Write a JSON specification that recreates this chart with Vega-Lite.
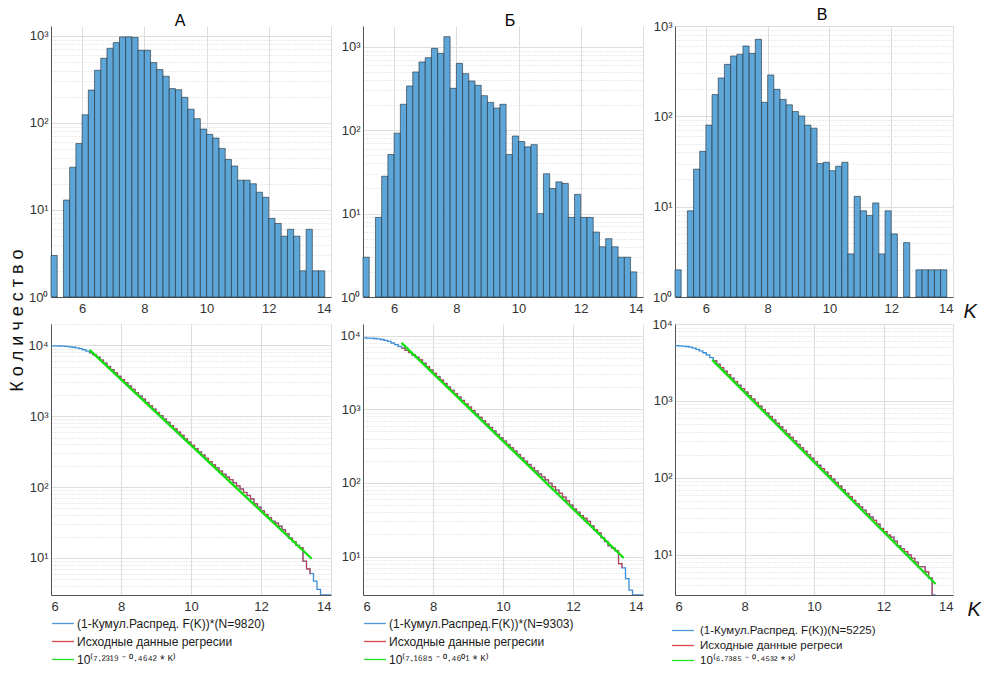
{
  "$schema": "https://vega.github.io/schema/vega-lite/v6.json",
  "background": "white",
  "padding": {"left": 8, "top": 7, "right": 2, "bottom": 2},
  "title": {"text": "К о л и ч е с т в о", "orient": "left", "anchor": "middle", "fontSize": 18, "fontWeight": "normal", "font": "Liberation Sans", "color": "#111", "offset": 1, "dx": 16},
  "datasets": {
    "hist": [
      {"p":"A","k0":5.0,"k1":5.2,"n":3},{"p":"A","k0":5.4,"k1":5.6,"n":13},{"p":"A","k0":5.6,"k1":5.8,"n":31},{"p":"A","k0":5.8,"k1":6.0,"n":58},
      {"p":"A","k0":6.0,"k1":6.2,"n":124},{"p":"A","k0":6.2,"k1":6.4,"n":239},{"p":"A","k0":6.4,"k1":6.6,"n":403},{"p":"A","k0":6.6,"k1":6.8,"n":554},
      {"p":"A","k0":6.8,"k1":7.0,"n":721},{"p":"A","k0":7.0,"k1":7.2,"n":838},{"p":"A","k0":7.2,"k1":7.4,"n":974},{"p":"A","k0":7.4,"k1":7.6,"n":975},
      {"p":"A","k0":7.6,"k1":7.8,"n":960},{"p":"A","k0":7.8,"k1":8.0,"n":684},{"p":"A","k0":8.0,"k1":8.2,"n":684},{"p":"A","k0":8.2,"k1":8.4,"n":494},
      {"p":"A","k0":8.4,"k1":8.6,"n":410},{"p":"A","k0":8.6,"k1":8.8,"n":344},{"p":"A","k0":8.8,"k1":9.0,"n":248},{"p":"A","k0":9.0,"k1":9.2,"n":241},
      {"p":"A","k0":9.2,"k1":9.4,"n":197},{"p":"A","k0":9.4,"k1":9.6,"n":144},{"p":"A","k0":9.6,"k1":9.8,"n":112},{"p":"A","k0":9.8,"k1":10.0,"n":85},
      {"p":"A","k0":10.0,"k1":10.2,"n":74},{"p":"A","k0":10.2,"k1":10.4,"n":67},{"p":"A","k0":10.4,"k1":10.6,"n":51},{"p":"A","k0":10.6,"k1":10.8,"n":38},
      {"p":"A","k0":10.8,"k1":11.0,"n":32},{"p":"A","k0":11.0,"k1":11.2,"n":22},{"p":"A","k0":11.2,"k1":11.4,"n":22},{"p":"A","k0":11.4,"k1":11.6,"n":20},
      {"p":"A","k0":11.6,"k1":11.8,"n":16},{"p":"A","k0":11.8,"k1":12.0,"n":14},{"p":"A","k0":12.0,"k1":12.2,"n":8},{"p":"A","k0":12.2,"k1":12.4,"n":7},
      {"p":"A","k0":12.4,"k1":12.6,"n":5},{"p":"A","k0":12.6,"k1":12.8,"n":6},{"p":"A","k0":12.8,"k1":13.0,"n":5},{"p":"A","k0":13.0,"k1":13.2,"n":2},
      {"p":"A","k0":13.2,"k1":13.4,"n":6},{"p":"A","k0":13.4,"k1":13.6,"n":2},{"p":"A","k0":13.6,"k1":13.8,"n":2},
      {"p":"B","k0":5.0,"k1":5.2,"n":3},{"p":"B","k0":5.4,"k1":5.6,"n":9},{"p":"B","k0":5.6,"k1":5.8,"n":28},{"p":"B","k0":5.8,"k1":6.0,"n":51},
      {"p":"B","k0":6.0,"k1":6.2,"n":92},{"p":"B","k0":6.2,"k1":6.4,"n":204},{"p":"B","k0":6.4,"k1":6.6,"n":338},{"p":"B","k0":6.6,"k1":6.8,"n":498},
      {"p":"B","k0":6.8,"k1":7.0,"n":656},{"p":"B","k0":7.0,"k1":7.2,"n":739},{"p":"B","k0":7.2,"k1":7.4,"n":955},{"p":"B","k0":7.4,"k1":7.6,"n":832},
      {"p":"B","k0":7.6,"k1":7.8,"n":1319},{"p":"B","k0":7.8,"k1":8.0,"n":317},{"p":"B","k0":8.0,"k1":8.2,"n":632},{"p":"B","k0":8.2,"k1":8.4,"n":475},
      {"p":"B","k0":8.4,"k1":8.6,"n":388},{"p":"B","k0":8.6,"k1":8.8,"n":344},{"p":"B","k0":8.8,"k1":9.0,"n":259},{"p":"B","k0":9.0,"k1":9.2,"n":215},
      {"p":"B","k0":9.2,"k1":9.4,"n":184},{"p":"B","k0":9.4,"k1":9.6,"n":204},{"p":"B","k0":9.6,"k1":9.8,"n":51},{"p":"B","k0":9.8,"k1":10.0,"n":85},
      {"p":"B","k0":10.0,"k1":10.2,"n":73},{"p":"B","k0":10.2,"k1":10.4,"n":63},{"p":"B","k0":10.4,"k1":10.6,"n":67},{"p":"B","k0":10.6,"k1":10.8,"n":10},
      {"p":"B","k0":10.8,"k1":11.0,"n":30},{"p":"B","k0":11.0,"k1":11.2,"n":20},{"p":"B","k0":11.2,"k1":11.4,"n":24},{"p":"B","k0":11.4,"k1":11.6,"n":23},
      {"p":"B","k0":11.6,"k1":11.8,"n":9},{"p":"B","k0":11.8,"k1":12.0,"n":17},{"p":"B","k0":12.0,"k1":12.2,"n":9},{"p":"B","k0":12.2,"k1":12.4,"n":9},
      {"p":"B","k0":12.4,"k1":12.6,"n":6},{"p":"B","k0":12.6,"k1":12.8,"n":4},{"p":"B","k0":12.8,"k1":13.0,"n":5},{"p":"B","k0":13.0,"k1":13.2,"n":4},
      {"p":"B","k0":13.2,"k1":13.4,"n":3},{"p":"B","k0":13.4,"k1":13.6,"n":3},{"p":"B","k0":13.6,"k1":13.8,"n":2},
      {"p":"C","k0":5.0,"k1":5.2,"n":2},{"p":"C","k0":5.4,"k1":5.6,"n":9},{"p":"C","k0":5.6,"k1":5.8,"n":26},{"p":"C","k0":5.8,"k1":6.0,"n":41},
      {"p":"C","k0":6.0,"k1":6.2,"n":80},{"p":"C","k0":6.2,"k1":6.4,"n":174},{"p":"C","k0":6.4,"k1":6.6,"n":266},{"p":"C","k0":6.6,"k1":6.8,"n":376},
      {"p":"C","k0":6.8,"k1":7.0,"n":466},{"p":"C","k0":7.0,"k1":7.2,"n":486},{"p":"C","k0":7.2,"k1":7.4,"n":601},{"p":"C","k0":7.4,"k1":7.6,"n":498},
      {"p":"C","k0":7.6,"k1":7.8,"n":712},{"p":"C","k0":7.8,"k1":8.0,"n":143},{"p":"C","k0":8.0,"k1":8.2,"n":287},{"p":"C","k0":8.2,"k1":8.4,"n":199},
      {"p":"C","k0":8.4,"k1":8.6,"n":154},{"p":"C","k0":8.6,"k1":8.8,"n":134},{"p":"C","k0":8.8,"k1":9.0,"n":113},{"p":"C","k0":9.0,"k1":9.2,"n":101},
      {"p":"C","k0":9.2,"k1":9.4,"n":80},{"p":"C","k0":9.4,"k1":9.6,"n":74},{"p":"C","k0":9.6,"k1":9.8,"n":30},{"p":"C","k0":9.8,"k1":10.0,"n":31},
      {"p":"C","k0":10.0,"k1":10.2,"n":25},{"p":"C","k0":10.2,"k1":10.4,"n":28},{"p":"C","k0":10.4,"k1":10.6,"n":31},{"p":"C","k0":10.6,"k1":10.8,"n":3},
      {"p":"C","k0":10.8,"k1":11.0,"n":13},{"p":"C","k0":11.0,"k1":11.2,"n":9},{"p":"C","k0":11.2,"k1":11.4,"n":8},{"p":"C","k0":11.4,"k1":11.6,"n":11},
      {"p":"C","k0":11.6,"k1":11.8,"n":3},{"p":"C","k0":11.8,"k1":12.0,"n":9},{"p":"C","k0":12.0,"k1":12.2,"n":5},{"p":"C","k0":12.4,"k1":12.6,"n":4},
      {"p":"C","k0":12.8,"k1":13.0,"n":2},{"p":"C","k0":13.0,"k1":13.2,"n":2},{"p":"C","k0":13.2,"k1":13.4,"n":2},{"p":"C","k0":13.4,"k1":13.6,"n":2},
      {"p":"C","k0":13.6,"k1":13.8,"n":2}
    ],
    "cum": [
      {"p":"A","K":6.0,"n":9820,"r":0},{"p":"A","K":6.1,"n":9810,"r":0},{"p":"A","K":6.2,"n":9780,"r":0},{"p":"A","K":6.3,"n":9730,"r":0},
      {"p":"A","K":6.4,"n":9650,"r":0},{"p":"A","K":6.5,"n":9540,"r":0},{"p":"A","K":6.6,"n":9390,"r":0},{"p":"A","K":6.7,"n":9200,"r":0},
      {"p":"A","K":6.8,"n":8960,"r":0},{"p":"A","K":6.9,"n":8660,"r":0},{"p":"A","K":7.0,"n":8300,"r":0},{"p":"A","K":7.1,"n":7850,"r":1},
      {"p":"A","K":7.2,"n":7350,"r":1},{"p":"A","K":7.3,"n":6800,"r":1},{"p":"A","K":7.4,"n":6200,"r":1},{"p":"A","K":7.5,"n":5600,"r":1},
      {"p":"A","K":7.6,"n":5030,"r":1},{"p":"A","K":7.7,"n":4530,"r":1},{"p":"A","K":7.8,"n":4090,"r":1},{"p":"A","K":7.9,"n":3650,"r":1},
      {"p":"A","K":8.0,"n":3290,"r":1},{"p":"A","K":8.1,"n":2950,"r":1},{"p":"A","K":8.2,"n":2670,"r":1},{"p":"A","K":8.3,"n":2390,"r":1},
      {"p":"A","K":8.4,"n":2140,"r":1},{"p":"A","K":8.5,"n":1930,"r":1},{"p":"A","K":8.6,"n":1740,"r":1},{"p":"A","K":8.7,"n":1560,"r":1},
      {"p":"A","K":8.8,"n":1400,"r":1},{"p":"A","K":8.9,"n":1255,"r":1},{"p":"A","K":9.0,"n":1130,"r":1},{"p":"A","K":9.1,"n":1015,"r":1},
      {"p":"A","K":9.2,"n":912,"r":1},{"p":"A","K":9.3,"n":822,"r":1},{"p":"A","K":9.4,"n":738,"r":1},{"p":"A","K":9.5,"n":662,"r":1},
      {"p":"A","K":9.6,"n":596,"r":1},{"p":"A","K":9.7,"n":536,"r":1},{"p":"A","K":9.8,"n":480,"r":1},{"p":"A","K":9.9,"n":432,"r":1},
      {"p":"A","K":10.0,"n":388,"r":1},{"p":"A","K":10.1,"n":349,"r":1},{"p":"A","K":10.2,"n":313,"r":1},{"p":"A","K":10.3,"n":282,"r":1},
      {"p":"A","K":10.4,"n":254,"r":1},{"p":"A","K":10.5,"n":229,"r":1},{"p":"A","K":10.6,"n":206,"r":1},{"p":"A","K":10.7,"n":186,"r":1},
      {"p":"A","K":10.8,"n":168,"r":1},{"p":"A","K":10.9,"n":152,"r":1},{"p":"A","K":11.0,"n":138,"r":1},{"p":"A","K":11.1,"n":127,"r":1},
      {"p":"A","K":11.2,"n":115,"r":1},{"p":"A","K":11.3,"n":104,"r":1},{"p":"A","K":11.4,"n":94,"r":1},{"p":"A","K":11.5,"n":84,"r":1},
      {"p":"A","K":11.6,"n":76,"r":1},{"p":"A","K":11.7,"n":68,"r":1},{"p":"A","K":11.8,"n":58,"r":1},{"p":"A","K":11.9,"n":52,"r":1},
      {"p":"A","K":12.0,"n":46,"r":1},{"p":"A","K":12.1,"n":41,"r":1},{"p":"A","K":12.2,"n":37,"r":1},{"p":"A","K":12.3,"n":33,"r":1},
      {"p":"A","K":12.4,"n":31,"r":1},{"p":"A","K":12.5,"n":28,"r":1},{"p":"A","K":12.6,"n":25,"r":1},{"p":"A","K":12.7,"n":22,"r":1},
      {"p":"A","K":12.8,"n":19,"r":1},{"p":"A","K":12.9,"n":17,"r":1},{"p":"A","K":13.0,"n":15,"r":1},{"p":"A","K":13.1,"n":14,"r":1},
      {"p":"A","K":13.2,"n":9,"r":1},{"p":"A","K":13.3,"n":7,"r":1},{"p":"A","K":13.4,"n":6,"r":1},{"p":"A","K":13.5,"n":4.7,"r":0},
      {"p":"A","K":13.6,"n":3.6,"r":0},{"p":"A","K":13.7,"n":3,"r":0},{"p":"A","K":14.0,"n":3,"r":0},
      {"p":"B","K":6.0,"n":9303,"r":0},{"p":"B","K":6.1,"n":9280,"r":0},{"p":"B","K":6.2,"n":9230,"r":0},{"p":"B","K":6.3,"n":9150,"r":0},
      {"p":"B","K":6.4,"n":9030,"r":0},{"p":"B","K":6.5,"n":8870,"r":0},{"p":"B","K":6.6,"n":8650,"r":0},{"p":"B","K":6.7,"n":8340,"r":0},
      {"p":"B","K":6.8,"n":7950,"r":0},{"p":"B","K":6.9,"n":7550,"r":0},{"p":"B","K":7.0,"n":7150,"r":0},{"p":"B","K":7.1,"n":6750,"r":1},
      {"p":"B","K":7.2,"n":6330,"r":1},{"p":"B","K":7.3,"n":5900,"r":1},{"p":"B","K":7.4,"n":5480,"r":1},{"p":"B","K":7.5,"n":5100,"r":1},
      {"p":"B","K":7.6,"n":4690,"r":1},{"p":"B","K":7.7,"n":4220,"r":1},{"p":"B","K":7.8,"n":3800,"r":1},{"p":"B","K":7.9,"n":3420,"r":1},
      {"p":"B","K":8.0,"n":3075,"r":1},{"p":"B","K":8.1,"n":2770,"r":1},{"p":"B","K":8.2,"n":2490,"r":1},{"p":"B","K":8.3,"n":2240,"r":1},
      {"p":"B","K":8.4,"n":2010,"r":1},{"p":"B","K":8.5,"n":1810,"r":1},{"p":"B","K":8.6,"n":1630,"r":1},{"p":"B","K":8.7,"n":1465,"r":1},
      {"p":"B","K":8.8,"n":1318,"r":1},{"p":"B","K":8.9,"n":1186,"r":1},{"p":"B","K":9.0,"n":1068,"r":1},{"p":"B","K":9.1,"n":960,"r":1},
      {"p":"B","K":9.2,"n":862,"r":1},{"p":"B","K":9.3,"n":776,"r":1},{"p":"B","K":9.4,"n":698,"r":1},{"p":"B","K":9.5,"n":628,"r":1},
      {"p":"B","K":9.6,"n":566,"r":1},{"p":"B","K":9.7,"n":508,"r":1},{"p":"B","K":9.8,"n":457,"r":1},{"p":"B","K":9.9,"n":411,"r":1},
      {"p":"B","K":10.0,"n":370,"r":1},{"p":"B","K":10.1,"n":333,"r":1},{"p":"B","K":10.2,"n":300,"r":1},{"p":"B","K":10.3,"n":270,"r":1},
      {"p":"B","K":10.4,"n":243,"r":1},{"p":"B","K":10.5,"n":219,"r":1},{"p":"B","K":10.6,"n":197,"r":1},{"p":"B","K":10.7,"n":178,"r":1},
      {"p":"B","K":10.8,"n":160,"r":1},{"p":"B","K":10.9,"n":145,"r":1},{"p":"B","K":11.0,"n":132,"r":1},{"p":"B","K":11.1,"n":121,"r":1},
      {"p":"B","K":11.2,"n":110,"r":1},{"p":"B","K":11.3,"n":99,"r":1},{"p":"B","K":11.4,"n":89,"r":1},{"p":"B","K":11.5,"n":80,"r":1},
      {"p":"B","K":11.6,"n":72,"r":1},{"p":"B","K":11.7,"n":64,"r":1},{"p":"B","K":11.8,"n":57,"r":1},{"p":"B","K":11.9,"n":50,"r":1},
      {"p":"B","K":12.0,"n":44,"r":1},{"p":"B","K":12.1,"n":40,"r":1},{"p":"B","K":12.2,"n":36,"r":1},{"p":"B","K":12.3,"n":33,"r":1},
      {"p":"B","K":12.4,"n":30,"r":1},{"p":"B","K":12.5,"n":26,"r":1},{"p":"B","K":12.6,"n":23,"r":1},{"p":"B","K":12.7,"n":21,"r":1},
      {"p":"B","K":12.8,"n":18,"r":1},{"p":"B","K":12.9,"n":16,"r":1},{"p":"B","K":13.0,"n":14,"r":1},{"p":"B","K":13.1,"n":13,"r":1},
      {"p":"B","K":13.2,"n":12,"r":1},{"p":"B","K":13.3,"n":8,"r":1},{"p":"B","K":13.4,"n":7,"r":1},{"p":"B","K":13.5,"n":5,"r":0},
      {"p":"B","K":13.6,"n":3.5,"r":0},{"p":"B","K":13.7,"n":3,"r":0},{"p":"B","K":14.0,"n":3,"r":0},
      {"p":"C","K":6.0,"n":5225,"r":0},{"p":"C","K":6.1,"n":5210,"r":0},{"p":"C","K":6.2,"n":5170,"r":0},{"p":"C","K":6.3,"n":5100,"r":0},
      {"p":"C","K":6.4,"n":5000,"r":0},{"p":"C","K":6.5,"n":4860,"r":0},{"p":"C","K":6.6,"n":4680,"r":0},{"p":"C","K":6.7,"n":4470,"r":0},
      {"p":"C","K":6.8,"n":4230,"r":0},{"p":"C","K":6.9,"n":3960,"r":0},{"p":"C","K":7.0,"n":3660,"r":0},{"p":"C","K":7.1,"n":3330,"r":1},
      {"p":"C","K":7.2,"n":3000,"r":1},{"p":"C","K":7.3,"n":2710,"r":1},{"p":"C","K":7.4,"n":2440,"r":1},{"p":"C","K":7.5,"n":2200,"r":1},
      {"p":"C","K":7.6,"n":1975,"r":1},{"p":"C","K":7.7,"n":1780,"r":1},{"p":"C","K":7.8,"n":1600,"r":1},{"p":"C","K":7.9,"n":1445,"r":1},
      {"p":"C","K":8.0,"n":1300,"r":1},{"p":"C","K":8.1,"n":1170,"r":1},{"p":"C","K":8.2,"n":1055,"r":1},{"p":"C","K":8.3,"n":950,"r":1},
      {"p":"C","K":8.4,"n":858,"r":1},{"p":"C","K":8.5,"n":772,"r":1},{"p":"C","K":8.6,"n":695,"r":1},{"p":"C","K":8.7,"n":628,"r":1},
      {"p":"C","K":8.8,"n":566,"r":1},{"p":"C","K":8.9,"n":510,"r":1},{"p":"C","K":9.0,"n":460,"r":1},{"p":"C","K":9.1,"n":414,"r":1},
      {"p":"C","K":9.2,"n":373,"r":1},{"p":"C","K":9.3,"n":336,"r":1},{"p":"C","K":9.4,"n":303,"r":1},{"p":"C","K":9.5,"n":273,"r":1},
      {"p":"C","K":9.6,"n":246,"r":1},{"p":"C","K":9.7,"n":222,"r":1},{"p":"C","K":9.8,"n":200,"r":1},{"p":"C","K":9.9,"n":180,"r":1},
      {"p":"C","K":10.0,"n":162,"r":1},{"p":"C","K":10.1,"n":146,"r":1},{"p":"C","K":10.2,"n":132,"r":1},{"p":"C","K":10.3,"n":119,"r":1},
      {"p":"C","K":10.4,"n":107,"r":1},{"p":"C","K":10.5,"n":96,"r":1},{"p":"C","K":10.6,"n":87,"r":1},{"p":"C","K":10.7,"n":78,"r":1},
      {"p":"C","K":10.8,"n":70,"r":1},{"p":"C","K":10.9,"n":63,"r":1},{"p":"C","K":11.0,"n":57,"r":1},{"p":"C","K":11.1,"n":51,"r":1},
      {"p":"C","K":11.2,"n":46,"r":1},{"p":"C","K":11.3,"n":42,"r":1},{"p":"C","K":11.4,"n":38,"r":1},{"p":"C","K":11.5,"n":34,"r":1},
      {"p":"C","K":11.6,"n":31,"r":1},{"p":"C","K":11.7,"n":28,"r":1},{"p":"C","K":11.8,"n":25,"r":1},{"p":"C","K":11.9,"n":22,"r":1},
      {"p":"C","K":12.0,"n":20,"r":1},{"p":"C","K":12.1,"n":18,"r":1},{"p":"C","K":12.2,"n":17,"r":1},{"p":"C","K":12.3,"n":15,"r":1},
      {"p":"C","K":12.4,"n":13,"r":1},{"p":"C","K":12.5,"n":12,"r":1},{"p":"C","K":12.6,"n":11,"r":1},{"p":"C","K":12.7,"n":10,"r":1},
      {"p":"C","K":12.8,"n":9,"r":1},{"p":"C","K":12.9,"n":8,"r":1},{"p":"C","K":13.0,"n":7,"r":1},{"p":"C","K":13.1,"n":7,"r":1},
      {"p":"C","K":13.2,"n":6,"r":1},{"p":"C","K":13.3,"n":5,"r":1},{"p":"C","K":13.4,"n":3,"r":1},{"p":"C","K":13.5,"n":3,"r":0}
    ],
    "fit": [
      {"p":"A","K":7.1,"n":8631},{"p":"A","K":13.45,"n":9.74},
      {"p":"B","K":7.1,"n":7977},{"p":"B","K":13.45,"n":9.55},
      {"p":"C","K":7.07,"n":3423},{"p":"C","K":13.5,"n":4.17}
    ]
  },
  "columns": 3,
  "spacing": {"row": 27, "column": 32},
  "bounds": "flush",
  "resolve": {"scale": {"x": "independent", "y": "independent", "color": "independent"}, "legend": {"color": "independent"}},
  "concat": [
        {
          "width": 280, "height": 271,
          "title": {"text": "А", "dx": -11},
          "data": {"name": "hist"},
          "transform": [{"filter": "datum.p == 'A'"}],
          "mark": {"type": "bar", "fill": "#5ea6d8", "stroke": "#1f2a33", "strokeWidth": 0.7, "strokeOpacity": 0.85},
          "encoding": {
            "x": {"field": "k0", "type": "quantitative", "scale": {"domain": [5, 14], "nice": false, "zero": false},
                  "axis": {"title": null, "values": [6, 8, 10, 12, 14]}},
            "x2": {"field": "k1"},
            "y": {"field": "n", "type": "quantitative", "scale": {"type": "log", "domain": [1, 1300], "nice": false},
                  "axis": {"title": null, "values": [1,2,3,4,5,6,7,8,9,10,20,30,40,50,60,70,80,90,100,200,300,400,500,600,700,800,900,1000],
                           "labelExpr": "datum.value==1?'10⁰':datum.value==10?'10¹':datum.value==100?'10²':datum.value==1000?'10³':datum.value==10000?'10⁴':''",
                           "gridDash": {"condition": {"test": "datum.value==1||datum.value==10||datum.value==100||datum.value==1000||datum.value==10000", "value": []}, "value": [1, 2]},
                           "gridColor": {"condition": {"test": "datum.value==1||datum.value==10||datum.value==100||datum.value==1000||datum.value==10000", "value": "#dddddd"}, "value": "#d6d6d6"}}},
            "y2": {"datum": 1}
          }
        },
        {
          "width": 280, "height": 271,
          "title": {"text": "Б", "dx": 7},
          "data": {"name": "hist"},
          "transform": [{"filter": "datum.p == 'B'"}],
          "mark": {"type": "bar", "fill": "#5ea6d8", "stroke": "#1f2a33", "strokeWidth": 0.7, "strokeOpacity": 0.85},
          "encoding": {
            "x": {"field": "k0", "type": "quantitative", "scale": {"domain": [5, 14], "nice": false, "zero": false},
                  "axis": {"title": null, "values": [6, 8, 10, 12, 14]}},
            "x2": {"field": "k1"},
            "y": {"field": "n", "type": "quantitative", "scale": {"type": "log", "domain": [1, 1770], "nice": false},
                  "axis": {"title": null, "values": [1,2,3,4,5,6,7,8,9,10,20,30,40,50,60,70,80,90,100,200,300,400,500,600,700,800,900,1000],
                           "labelExpr": "datum.value==1?'10⁰':datum.value==10?'10¹':datum.value==100?'10²':datum.value==1000?'10³':datum.value==10000?'10⁴':''",
                           "gridDash": {"condition": {"test": "datum.value==1||datum.value==10||datum.value==100||datum.value==1000||datum.value==10000", "value": []}, "value": [1, 2]},
                           "gridColor": {"condition": {"test": "datum.value==1||datum.value==10||datum.value==100||datum.value==1000||datum.value==10000", "value": "#dddddd"}, "value": "#d6d6d6"}}},
            "y2": {"datum": 1}
          }
        },
        {
          "width": 278, "height": 271,
          "title": {"text": "В", "dx": 8},
          "data": {"name": "hist"},
          "transform": [{"filter": "datum.p == 'C'"}],
          "mark": {"type": "bar", "fill": "#5ea6d8", "stroke": "#1f2a33", "strokeWidth": 0.7, "strokeOpacity": 0.85},
          "encoding": {
            "x": {"field": "k0", "type": "quantitative", "scale": {"domain": [5, 14], "nice": false, "zero": false},
                  "axis": {"title": "K", "values": [6, 8, 10, 12, 14], "titleX": 288, "titleY": 20, "titleAlign": "left", "titleBaseline": "alphabetic", "titleAngle": 0, "titleFontStyle": "italic", "titleFontSize": 20, "titleFontWeight": "normal", "titleColor": "#111"}},
            "x2": {"field": "k1"},
            "y": {"field": "n", "type": "quantitative", "scale": {"type": "log", "domain": [1, 1000], "nice": false},
                  "axis": {"title": null, "values": [1,2,3,4,5,6,7,8,9,10,20,30,40,50,60,70,80,90,100,200,300,400,500,600,700,800,900,1000],
                           "labelExpr": "datum.value==1?'10⁰':datum.value==10?'10¹':datum.value==100?'10²':datum.value==1000?'10³':datum.value==10000?'10⁴':''",
                           "gridDash": {"condition": {"test": "datum.value==1||datum.value==10||datum.value==100||datum.value==1000||datum.value==10000", "value": []}, "value": [1, 2]},
                           "gridColor": {"condition": {"test": "datum.value==1||datum.value==10||datum.value==100||datum.value==1000||datum.value==10000", "value": "#dddddd"}, "value": "#d6d6d6"}}},
            "y2": {"datum": 1}
          }
        },
        {
          "width": 280, "height": 271,
          "encoding": {
            "x": {"field": "K", "type": "quantitative", "scale": {"domain": [6, 14], "nice": false, "zero": false},
                  "axis": {"title": null, "values": [6, 8, 10, 12, 14]}},
            "y": {"field": "n", "type": "quantitative", "scale": {"type": "log", "domain": [3, 20000], "nice": false},
                  "axis": {"title": null, "values": [3,4,5,6,7,8,9,10,20,30,40,50,60,70,80,90,100,200,300,400,500,600,700,800,900,1000,2000,3000,4000,5000,6000,7000,8000,9000,10000,20000],
                           "labelExpr": "datum.value==1?'10⁰':datum.value==10?'10¹':datum.value==100?'10²':datum.value==1000?'10³':datum.value==10000?'10⁴':''",
                           "gridDash": {"condition": {"test": "datum.value==1||datum.value==10||datum.value==100||datum.value==1000||datum.value==10000", "value": []}, "value": [1, 2]},
                           "gridColor": {"condition": {"test": "datum.value==1||datum.value==10||datum.value==100||datum.value==1000||datum.value==10000", "value": "#dddddd"}, "value": "#d6d6d6"}}}
          },
          "layer": [
            {
              "data": {"name": "cum"},
              "transform": [{"filter": "datum.p == 'A'"}],
              "mark": {"type": "line", "interpolate": "step-after", "strokeWidth": 1.3, "clip": true},
              "encoding": {
                "color": {"datum": "(1-Кумул.Распред. F(K))*(N=9820)", "type": "nominal",
                  "scale": {"domain": ["(1-Кумул.Распред. F(K))*(N=9820)", "Исходные данные регресии", "10⁽⁷·²³¹⁹ ⁻ ⁰·⁴⁶⁴² * ᴷ⁾"], "range": ["#3a8ed8", "#d8323c", "#10e010"]},
                  "legend": {"title": null, "legendX": 0, "legendY": 293}}
              }
            },
            {
              "data": {"name": "cum"},
              "transform": [{"filter": "datum.p == 'A' && datum.r == 1"}],
              "mark": {"type": "line", "interpolate": "step-after", "strokeWidth": 1.1, "opacity": 0.9, "clip": true},
              "encoding": {"color": {"datum": "Исходные данные регресии", "type": "nominal"}}
            },
            {
              "data": {"name": "fit"},
              "transform": [{"filter": "datum.p == 'A'"}],
              "mark": {"type": "line", "strokeWidth": 2.3, "clip": true},
              "encoding": {"color": {"datum": "10⁽⁷·²³¹⁹ ⁻ ⁰·⁴⁶⁴² * ᴷ⁾", "type": "nominal"}}
            }
          ]
        },
        {
          "width": 280, "height": 271,
          "encoding": {
            "x": {"field": "K", "type": "quantitative", "scale": {"domain": [6, 14], "nice": false, "zero": false},
                  "axis": {"title": null, "values": [6, 8, 10, 12, 14]}},
            "y": {"field": "n", "type": "quantitative", "scale": {"type": "log", "domain": [3, 14400], "nice": false},
                  "axis": {"title": null, "values": [3,4,5,6,7,8,9,10,20,30,40,50,60,70,80,90,100,200,300,400,500,600,700,800,900,1000,2000,3000,4000,5000,6000,7000,8000,9000,10000],
                           "labelExpr": "datum.value==1?'10⁰':datum.value==10?'10¹':datum.value==100?'10²':datum.value==1000?'10³':datum.value==10000?'10⁴':''",
                           "gridDash": {"condition": {"test": "datum.value==1||datum.value==10||datum.value==100||datum.value==1000||datum.value==10000", "value": []}, "value": [1, 2]},
                           "gridColor": {"condition": {"test": "datum.value==1||datum.value==10||datum.value==100||datum.value==1000||datum.value==10000", "value": "#dddddd"}, "value": "#d6d6d6"}}}
          },
          "layer": [
            {
              "data": {"name": "cum"},
              "transform": [{"filter": "datum.p == 'B'"}],
              "mark": {"type": "line", "interpolate": "step-after", "strokeWidth": 1.3, "clip": true},
              "encoding": {
                "color": {"datum": "(1-Кумул.Распред.F(K))*(N=9303)", "type": "nominal",
                  "scale": {"domain": ["(1-Кумул.Распред.F(K))*(N=9303)", "Исходные данные регресии", "10⁽⁷·¹⁶⁸⁵ ⁻ ⁰·⁴⁶⁰¹ * ᴷ⁾"], "range": ["#3a8ed8", "#d8323c", "#10e010"]},
                  "legend": {"title": null, "legendX": 0, "legendY": 293}}
              }
            },
            {
              "data": {"name": "cum"},
              "transform": [{"filter": "datum.p == 'B' && datum.r == 1"}],
              "mark": {"type": "line", "interpolate": "step-after", "strokeWidth": 1.1, "opacity": 0.9, "clip": true},
              "encoding": {"color": {"datum": "Исходные данные регресии", "type": "nominal"}}
            },
            {
              "data": {"name": "fit"},
              "transform": [{"filter": "datum.p == 'B'"}],
              "mark": {"type": "line", "strokeWidth": 2.3, "clip": true},
              "encoding": {"color": {"datum": "10⁽⁷·¹⁶⁸⁵ ⁻ ⁰·⁴⁶⁰¹ * ᴷ⁾", "type": "nominal"}}
            }
          ]
        },
        {
          "width": 278, "height": 271,
          "encoding": {
            "x": {"field": "K", "type": "quantitative", "scale": {"domain": [6, 14], "nice": false, "zero": false},
                  "axis": {"title": "K", "values": [6, 8, 10, 12, 14], "titleX": 292, "titleY": 20, "titleAlign": "left", "titleBaseline": "alphabetic", "titleAngle": 0, "titleFontStyle": "italic", "titleFontSize": 20, "titleFontWeight": "normal", "titleColor": "#111"}},
            "y": {"field": "n", "type": "quantitative", "scale": {"type": "log", "domain": [3, 10000], "nice": false},
                  "axis": {"title": null, "values": [3,4,5,6,7,8,9,10,20,30,40,50,60,70,80,90,100,200,300,400,500,600,700,800,900,1000,2000,3000,4000,5000,6000,7000,8000,9000,10000],
                           "labelExpr": "datum.value==1?'10⁰':datum.value==10?'10¹':datum.value==100?'10²':datum.value==1000?'10³':datum.value==10000?'10⁴':''",
                           "gridDash": {"condition": {"test": "datum.value==1||datum.value==10||datum.value==100||datum.value==1000||datum.value==10000", "value": []}, "value": [1, 2]},
                           "gridColor": {"condition": {"test": "datum.value==1||datum.value==10||datum.value==100||datum.value==1000||datum.value==10000", "value": "#dddddd"}, "value": "#d6d6d6"}}}
          },
          "layer": [
            {
              "data": {"name": "cum"},
              "transform": [{"filter": "datum.p == 'C'"}],
              "mark": {"type": "line", "interpolate": "step-after", "strokeWidth": 1.3, "clip": true},
              "encoding": {
                "color": {"datum": "(1-Кумул.Распред. F(K))(N=5225)", "type": "nominal",
                  "scale": {"domain": ["(1-Кумул.Распред. F(K))(N=5225)", "Исходные данные регреси", "10⁽⁶·⁷³⁸⁵ ⁻ ⁰·⁴⁵³² * ᴷ⁾"], "range": ["#3a8ed8", "#d8323c", "#10e010"]},
                  "legend": {"title": null, "legendX": -4, "legendY": 300, "labelOffset": 16, "rowPadding": 3, "labelFontSize": 11.5}}
              }
            },
            {
              "data": {"name": "cum"},
              "transform": [{"filter": "datum.p == 'C' && datum.r == 1"}],
              "mark": {"type": "line", "interpolate": "step-after", "strokeWidth": 1.1, "opacity": 0.9, "clip": true},
              "encoding": {"color": {"datum": "Исходные данные регреси", "type": "nominal"}}
            },
            {
              "data": {"name": "fit"},
              "transform": [{"filter": "datum.p == 'C'"}],
              "mark": {"type": "line", "strokeWidth": 2.3, "clip": true},
              "encoding": {"color": {"datum": "10⁽⁶·⁷³⁸⁵ ⁻ ⁰·⁴⁵³² * ᴷ⁾", "type": "nominal"}}
            }
          ]
        }
  ],
  "config": {
    "view": {"stroke": null},
    "font": "Liberation Sans",
    "axis": {"labelFont": "Liberation Sans", "labelFontSize": 13, "labelColor": "#333333", "domainColor": "#555555", "domainWidth": 1, "ticks": false, "labelPadding": 3, "grid": true, "gridColor": "#dddddd", "labelOverlap": false, "titleFont": "Liberation Sans"},
    "axisX": {"labelPadding": 5},
    "title": {"fontSize": 16, "fontWeight": "normal", "font": "Liberation Sans", "color": "#000000", "offset": -3},
    "legend": {"orient": "none", "direction": "vertical", "labelFont": "Liberation Sans", "labelFontSize": 12, "labelColor": "#1a1a1a", "labelLimit": 400, "symbolType": "M-1,0H3", "symbolSize": 121, "symbolStrokeWidth": 1.3, "symbolFillColor": "transparent", "rowPadding": 5, "padding": 0, "labelOffset": 13,
      "encode": {"symbols": {"update": {"strokeWidth": {"signal": "indexof(datum.value, '10') == 0 ? 2.5 : 1.3"}}}}}
  }
}
